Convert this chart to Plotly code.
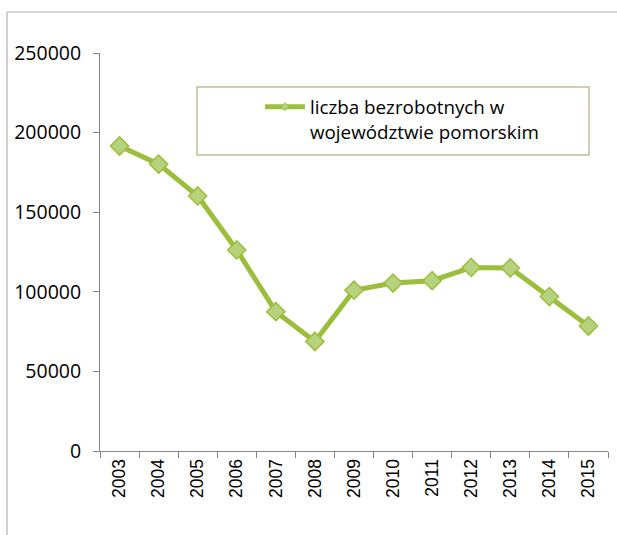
import plotly.graph_objects as go

years = ["2003", "2004", "2005", "2006", "2007", "2008", "2009",
         "2010", "2011", "2012", "2013", "2014", "2015"]
unemployed = [191600, 180200, 160200, 126300, 87500, 68800, 101000,
              105500, 107000, 115300, 115000, 97000, 78500]
y_ticks = [0, 50000, 100000, 150000, 200000, 250000]
series_name = "liczba bezrobotnych w<br>województwie pomorskim"

LINE = "#9bbf3c"
FILL = "#b7d27c"

fig = go.Figure()
fig.add_trace(go.Scatter(
    x=years, y=unemployed, mode="lines+markers",
    line=dict(color=LINE, width=5),
    marker=dict(symbol="diamond", size=14, color=FILL,
                line=dict(color=LINE, width=1.5)),
    showlegend=False, hoverinfo="x+y",
))
# legend entry (small diamond as in the original legend)
fig.add_trace(go.Scatter(
    x=[None], y=[None], mode="lines+markers", name=series_name,
    line=dict(color=LINE, width=5),
    marker=dict(symbol="diamond", size=6, color=FILL,
                line=dict(color=LINE, width=1)),
))

L, R, T, B = 100, 9, 53, 84
W, H = 617, 535
pw, ph = W - L - R, H - T - B

def px_x(p):
    return (p - L) / pw

def px_y(p):
    return 1 - (p - T) / ph

fig.update_layout(
    width=W, height=H,
    margin=dict(l=L, r=R, t=T, b=B),
    paper_bgcolor="white", plot_bgcolor="white",
    font=dict(family="Liberation Sans", color="#000000"),
    legend=dict(
        x=px_x(260), y=px_y(88), xanchor="left", yanchor="top",
        bgcolor="rgba(0,0,0,0)", borderwidth=0,
        font=dict(family="Open Sans", size=18.8, color="#000000"),
        valign="top", itemwidth=40,
    ),
    shapes=[
        dict(type="rect", xref="paper", yref="paper",
             x0=px_x(197), x1=px_x(589), y0=px_y(155), y1=px_y(87),
             line=dict(color="#c4bd97", width=1.5), fillcolor="rgba(0,0,0,0)"),
        dict(type="line", xref="paper", yref="paper",
             x0=px_x(7), x1=px_x(620), y0=px_y(12), y1=px_y(12),
             line=dict(color="#c8c8c8", width=1.5)),
        dict(type="line", xref="paper", yref="paper",
             x0=px_x(7), x1=px_x(7), y0=px_y(12), y1=px_y(540),
             line=dict(color="#c0c0c0", width=1.5)),
    ],
)
fig.update_xaxes(
    type="category", range=[-0.5, 12.5], tickangle=-90,
    tickson="boundaries", ticks="outside", ticklen=6, tickcolor="#868686",
    showline=True, linecolor="#868686", linewidth=1,
    showgrid=False, zeroline=False,
    tickfont=dict(family="Arial", size=17.5),
)
fig.update_yaxes(
    range=[0, 250000], tickvals=y_ticks, ticktext=[str(v) for v in y_ticks],
    ticks="outside", ticklen=6, tickcolor="#868686",
    showline=True, linecolor="#868686", linewidth=1,
    showgrid=False, zeroline=False, ticklabelstandoff=8,
    tickfont=dict(family="Open Sans", size=19.5),
)

fig.write_html(
    "out.html",
    config={"displayModeBar": False},
    post_script="document.body.style.margin='0';document.body.style.padding='0';",
)
